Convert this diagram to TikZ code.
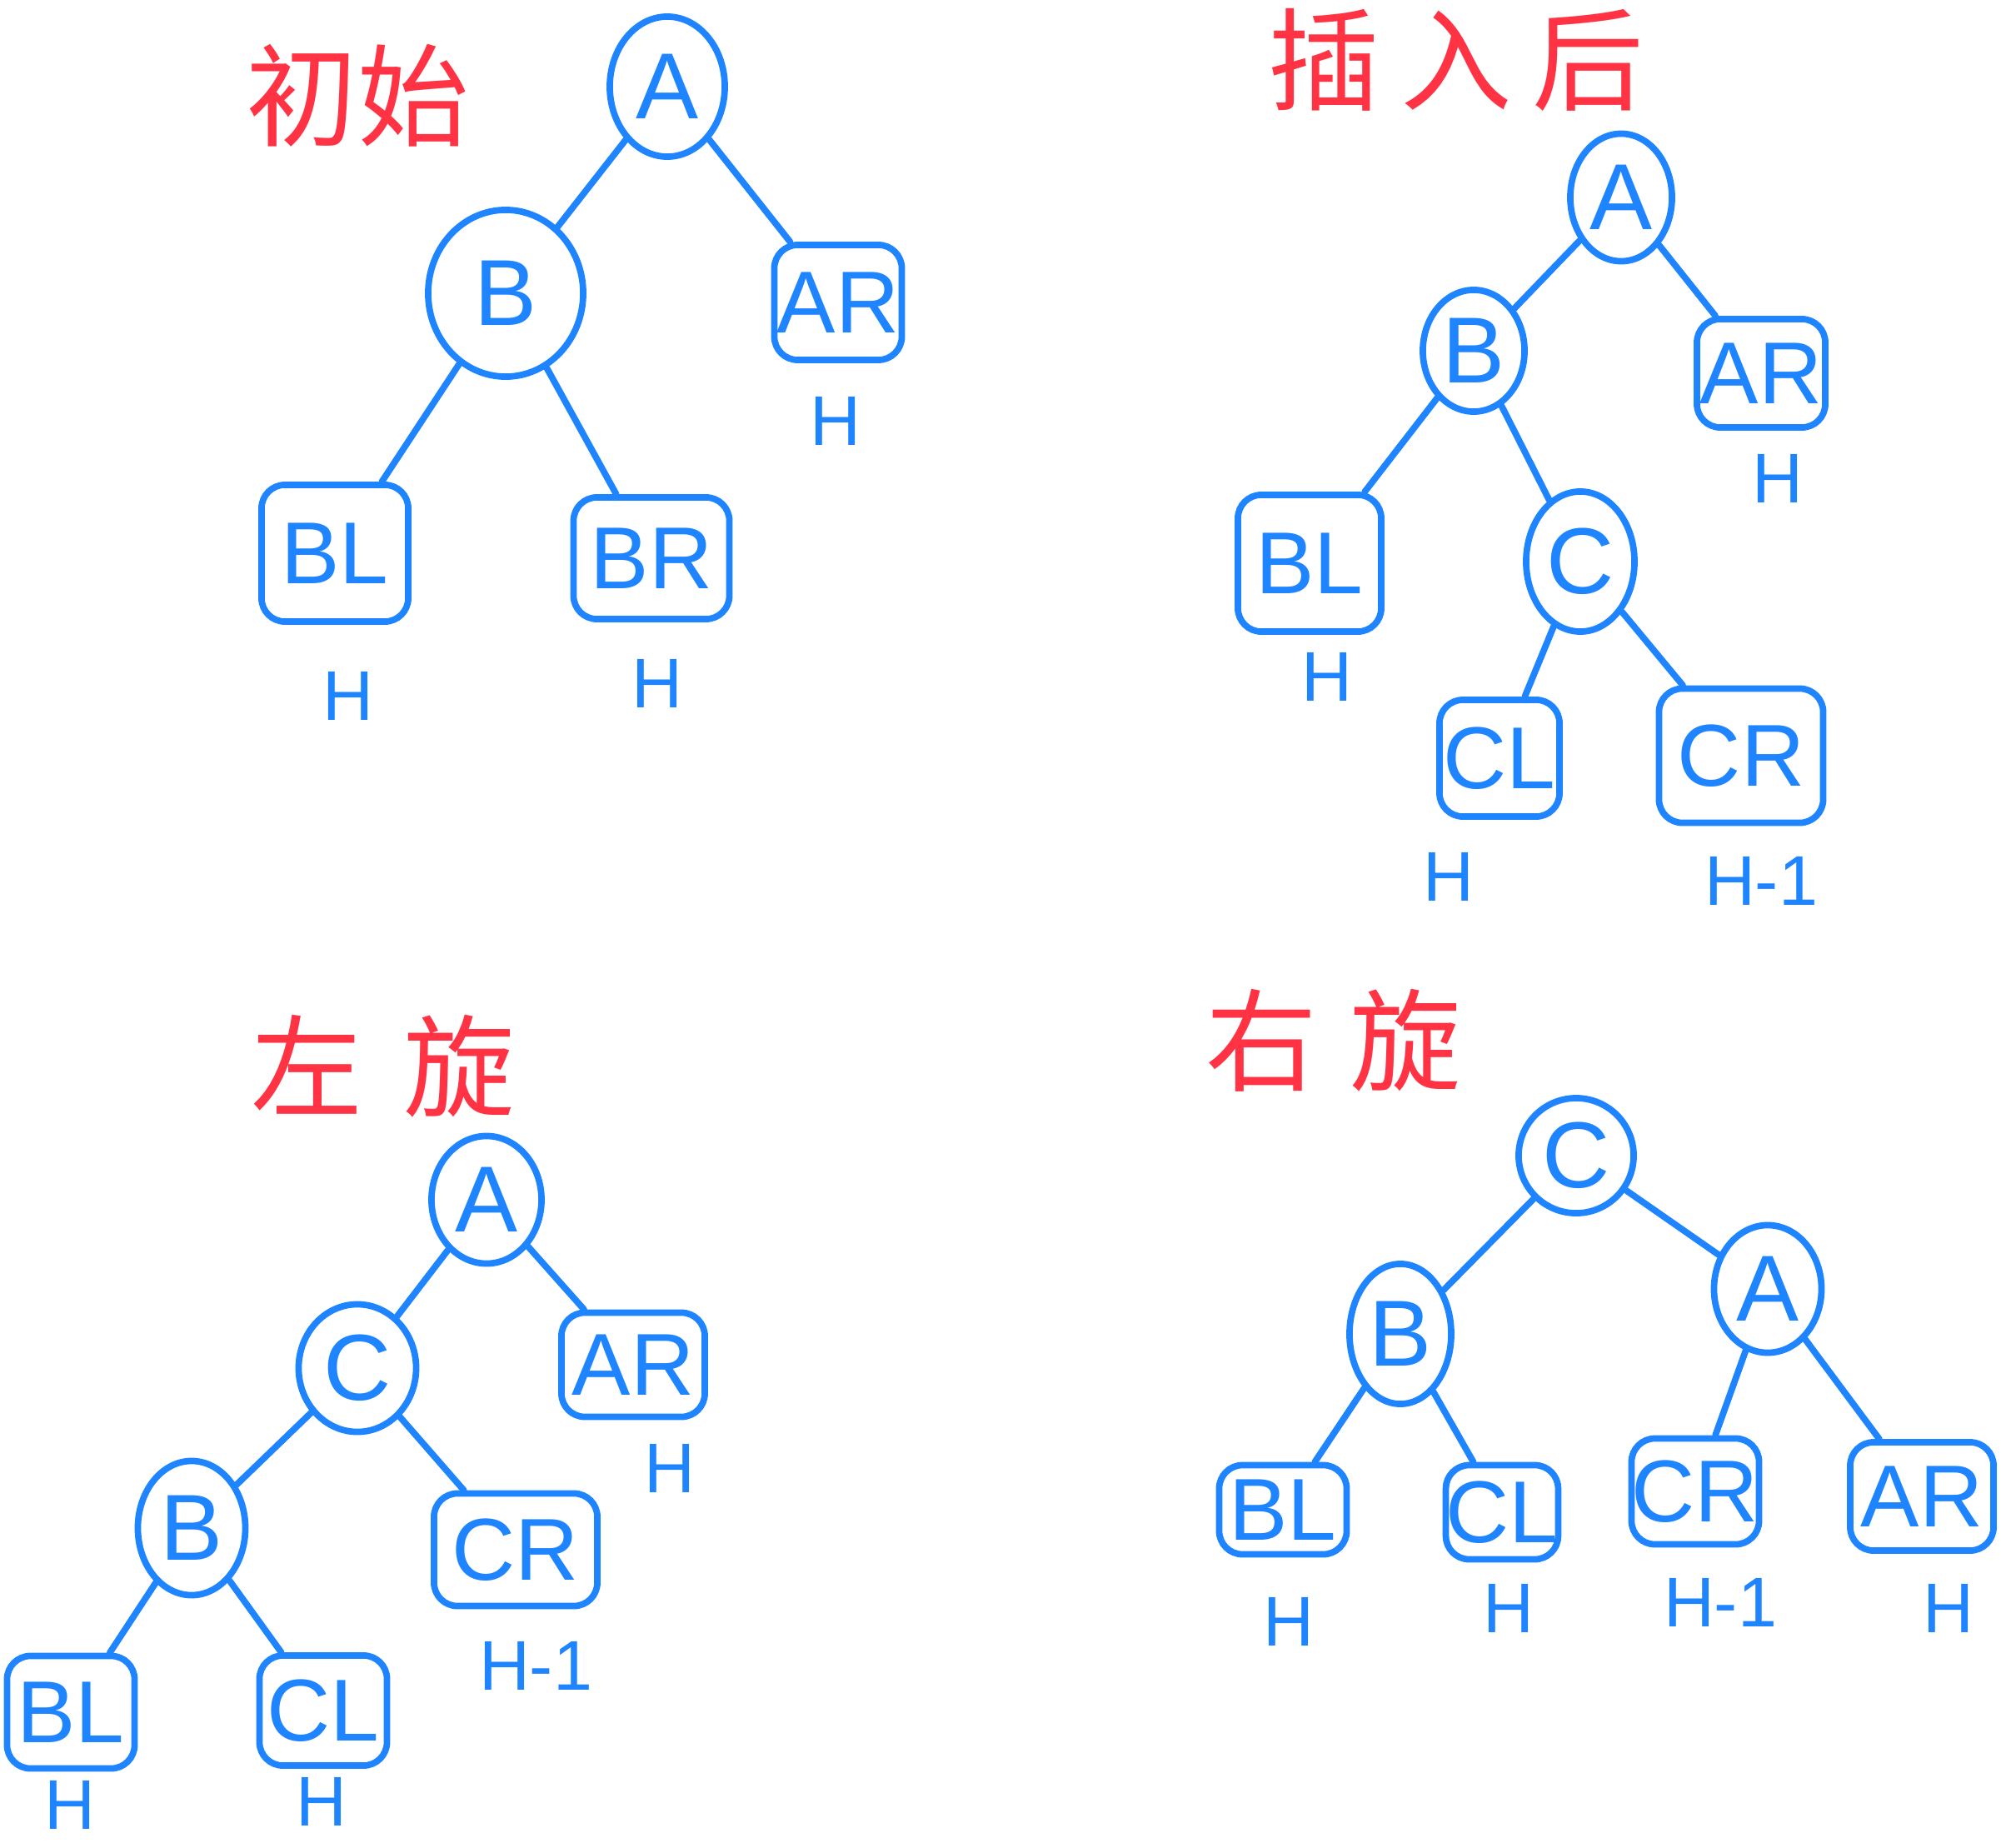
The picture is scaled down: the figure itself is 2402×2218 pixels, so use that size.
\documentclass[tikz,border=0pt]{standalone}
\usepackage{fontspec}
\setmainfont{Liberation Sans}
\newfontfamily\cjk{Noto Sans CJK SC}
\usetikzlibrary{shapes.geometric}
\definecolor{penblue}{HTML}{1E84FF}
\definecolor{penred}{HTML}{FF3343}
\tikzset{
  vtx/.style = {draw, ellipse, inner sep=0pt, minimum width=1.35cm, minimum height=1.6cm,
    font=\fontsize{32}{36}\selectfont},
  sub/.style = {draw, rounded corners=8pt, inner sep=0pt, font=\fontsize{30}{34}\selectfont},
  hgt/.style = {font=\fontsize{24}{28}\selectfont},
  title/.style = {text=penred, font=\cjk\fontsize{38}{44}\selectfont}
}

\begin{document}
\begin{tikzpicture}[x=0.01cm, y=-0.01cm, penblue, line width=2.2pt, line cap=round]
  \useasboundingbox (0,0) rectangle (2402,2218);
  % initial tree
  \node[title] (t1) at (429,115) {初始};
  \node[vtx, minimum width=1.38cm, minimum height=1.68cm] (A1) at (801,104) {A};
  \node[vtx, minimum width=1.86cm, minimum height=2cm] (B1) at (607,352) {B};
  \node[sub, minimum width=1.53cm, minimum height=1.38cm] (AR1) at (1006,363) {AR};
  \node[sub, minimum width=1.76cm, minimum height=1.64cm] (BL1) at (402,664) {BL};
  \node[sub, minimum width=1.87cm, minimum height=1.46cm] (BR1) at (782,670) {BR};
  \node[hgt] (hAR1) at (1003,505) {H};
  \node[hgt] (hBL1) at (418,835) {H};
  \node[hgt] (hBR1) at (789,820) {H};
  % after insert
  \node[title] (t2) at (1748,72) {插\hspace{0.25cm}入\hspace{0.25cm}后};
  \node[vtx, minimum width=1.22cm, minimum height=1.53cm] (A2) at (1946,237) {A};
  \node[vtx, minimum width=1.22cm, minimum height=1.46cm] (B2) at (1769,421) {B};
  \node[vtx, minimum width=1.3cm, minimum height=1.68cm] (C2) at (1897,674) {C};
  \node[sub, minimum width=1.54cm, minimum height=1.3cm] (AR2) at (2114,448) {AR};
  \node[sub, minimum width=1.72cm, minimum height=1.64cm] (BL2) at (1572,676) {BL};
  \node[sub, minimum width=1.44cm, minimum height=1.4cm] (CL2) at (1800,910) {CL};
  \node[sub, minimum width=1.97cm, minimum height=1.61cm] (CR2) at (2090,907) {CR};
  \node[hgt] (hAR2) at (2134,574) {H};
  \node[hgt] (hBL2) at (1593,812) {H};
  \node[hgt] (hCL2) at (1739,1052) {H};
  \node[hgt] (hCR2) at (2114,1057) {H-1};
  % left rotation
  \node[title] (t3) at (460,1280) {左\hspace{0.5cm}旋};
  \node[vtx, minimum width=1.32cm, minimum height=1.53cm] (A3) at (584,1440) {A};
  \node[vtx, minimum width=1.41cm, minimum height=1.53cm] (C3) at (429,1642) {C};
  \node[vtx, minimum width=1.29cm, minimum height=1.61cm] (B3) at (230,1834) {B};
  \node[sub, minimum width=1.72cm, minimum height=1.25cm] (AR3) at (760,1638) {AR};
  \node[sub, minimum width=1.96cm, minimum height=1.35cm] (CR3) at (619,1860) {CR};
  \node[sub, minimum width=1.53cm, minimum height=1.35cm] (BL3) at (85,2055) {BL};
  \node[sub, minimum width=1.53cm, minimum height=1.32cm] (CL3) at (388,2053) {CL};
  \node[hgt] (hAR3) at (804,1762) {H};
  \node[hgt] (hCR3) at (643,1999) {H-1};
  \node[hgt] (hBL3) at (84,2166) {H};
  \node[hgt] (hCL3) at (386,2162) {H};
  % right rotation
  \node[title] (t4) at (1601,1249) {右\hspace{0.4cm}旋};
  \node[vtx, minimum width=1.38cm, minimum height=1.38cm] (C4) at (1892,1387) {C};
  \node[vtx, minimum width=1.22cm, minimum height=1.68cm] (B4) at (1681,1601) {B};
  \node[vtx, minimum width=1.29cm, minimum height=1.53cm] (A4) at (2122,1547) {A};
  \node[sub, minimum width=1.53cm, minimum height=1.07cm] (BL4) at (1540,1812) {BL};
  \node[sub, minimum width=1.22cm, minimum height=1.13cm] (CL4) at (1803,1815) {CL};
  \node[sub, minimum width=1.53cm, minimum height=1.27cm] (CR4) at (2035,1790) {CR};
  \node[sub, minimum width=1.72cm, minimum height=1.3cm] (AR4) at (2307,1796) {AR};
  \node[hgt] (hBL4) at (1547,1946) {H};
  \node[hgt] (hCL4) at (1811,1930) {H};
  \node[hgt] (hCR4) at (2065,1923) {H-1};
  \node[hgt] (hAR4) at (2339,1930) {H};
  % edges
  \foreach \a/\b in {A1/B1, A1/AR1, B1/BL1, B1/BR1,
                     A2/B2, A2/AR2, B2/BL2, B2/C2, C2/CL2, C2/CR2,
                     A3/C3, A3/AR3, C3/B3, C3/CR3, B3/BL3, B3/CL3,
                     C4/B4, C4/A4, B4/BL4, B4/CL4, A4/CR4, A4/AR4}
    { \draw (\a) -- (\b); };
\end{tikzpicture}
\end{document}
